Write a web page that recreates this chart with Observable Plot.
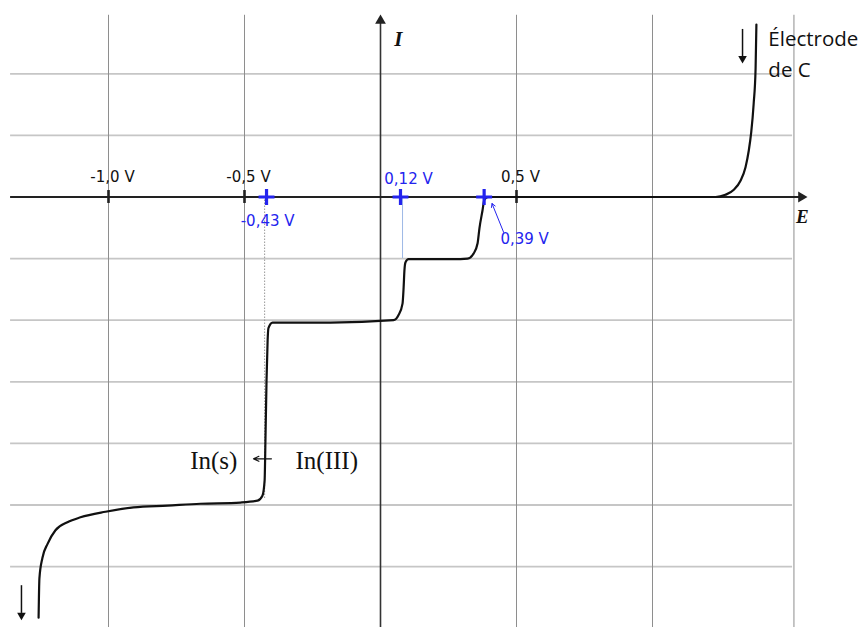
<!DOCTYPE html>
<html><head><meta charset="utf-8">
<script src="https://cdn.jsdelivr.net/npm/d3@7"></script>
<script src="https://cdn.jsdelivr.net/npm/@observablehq/plot@0.6"></script>
<style>body{margin:0;background:#fff} #chart svg{display:block}</style>
</head><body><div id="chart"></div>
<script>
// Current-potential curve I(E) (E in V, I in grid units)
const curveE = [-1.257,-1.254,-1.243,-1.224,-1.195,-1.151,-1.103,-1.011,-0.908,-0.783,-0.662,-0.515,-0.452,-0.434,-0.426,-0.423,-0.419,-0.415,-0.412,-0.397,-0.184,0.048,0.066,0.081,0.085,0.088,0.092,0.103,0.268,0.320,0.342,0.357,0.364,0.375,0.382,0.397,0.800,1.232,1.268,1.299,1.324,1.342,1.354,1.363,1.372,1.379,1.382];
const curveI = [-6.83,-6.19,-5.86,-5.63,-5.41,-5.28,-5.20,-5.11,-5.04,-5.01,-4.98,-4.96,-4.93,-4.85,-4.60,-3.95,-2.98,-2.33,-2.13,-2.04,-2.04,-2.00,-1.92,-1.73,-1.47,-1.19,-1.06,-1.01,-1.01,-1.00,-0.92,-0.75,-0.50,-0.22,-0.04,0,0,0,0.036,0.117,0.268,0.484,0.755,1.052,1.518,2.086,2.80];

// grid
const gridE = [-1.0, -0.5, 0.5, 1.0, 1.52];
const gridI = [2, 1, -1, -2, -3, -4, -5, -6];

// axis ticks
const tickE = [-1.0, -0.5, 0.5];
const tickLabels = ["-1,0 V", "-0,5 V", "0,5 V"];

// half-wave potential markers (position as drawn) and their labels
const markerE = [-0.419, 0.0735, 0.381];
const markerLabels = ["-0,43 V", "0,12 V", "0,39 V"];
const markerLabelE = [-0.415, 0.103, 0.53];
const markerLabelI = [-0.385, 0.297, -0.677];

// dotted drop lines
const dropE = [-0.426, 0.081];
const dropI = [-4.9, -1.0];

// annotation texts
const reactionTexts = ["In(s)", "In(III)"];
const reactionE = [-0.526, -0.3125];
const reactionI = -4.28;
const reactionArrowE = [-0.401, -0.467];
const reactionArrowI = -4.25;
const electrodeLines = ["Électrode", "de C"];
const electrodeLineI = [2.55, 2.06];

const xDomain = [-380/272, 487/272];
const yDomain = [-(627-196.5)/61.6, 196.5/61.6];

const blue = "#2424ee";
const data = curveE.map((e, i) => ({E: e, I: curveI[i]}));
const serif = {fontFamily: "Liberation Serif", fontSize: 25, fill: "#111"};

const chart = Plot.plot({
  width: 867, height: 627,
  margin: 0,
  x: {domain: xDomain, axis: null},
  y: {domain: yDomain, axis: null},
  style: {background: "#fff"},
  marks: [
    // grid
    Plot.ruleY(gridI, {y: d => d, x1: -1.36, x2: 1.515, stroke: "#c6c6c6", strokeWidth: 1.8}),
    Plot.ruleX(gridE, {x: d => d, y1: 2.95, y2: yDomain[0], stroke: "#8e8e8e", strokeWidth: 1}),
    // axes
    Plot.ruleX([0], {y1: yDomain[0], y2: 2.86, stroke: "#333", strokeWidth: 1.6}),
    Plot.dot([0], {x: 0, y: 2.862, symbol: "triangle", r: 4, fill: "#222", stroke: "none"}),
    Plot.ruleY([0], {x1: -1.36, x2: 1.545, stroke: "#222", strokeWidth: 2}),
    Plot.dot([0], {x: 1.547, y: 0, symbol: "triangle", r: 4, rotate: 90, fill: "#222", stroke: "none"}),
    Plot.ruleX(tickE, {x: d => d, y1: -0.105, y2: 0.105, stroke: "#222", strokeWidth: 2.6}),
    Plot.text(tickLabels, {x: (d, i) => tickE[i], y: 0.314, text: d => d, dx: 4,
      fontFamily: "DejaVu Sans", fontSize: 15, fill: "#111"}),
    // drop lines
    Plot.ruleX([0], {x: dropE[0], y1: 0, y2: dropI[0], stroke: "#999", strokeWidth: 1, strokeDasharray: "1.5,1.5"}),
    Plot.ruleX([0], {x: dropE[1], y1: 0, y2: dropI[1], stroke: "#9db8e6", strokeWidth: 1}),
    // curve
    Plot.line(data, {x: "E", y: "I", curve: "monotone-x", stroke: "#111", strokeWidth: 2.2}),
    // markers
    Plot.dot(markerE, {x: d => d, y: 0, symbol: "plus", r: 5.2, stroke: blue, strokeWidth: 3.2}),
    Plot.text(markerLabels, {x: (d, i) => markerLabelE[i], y: (d, i) => markerLabelI[i], text: d => d,
      fontFamily: "DejaVu Sans", fontSize: 15, fill: blue}),
    Plot.arrow([0], {x1: 0.453, y1: -0.576, x2: 0.410, y2: -0.106, stroke: blue, strokeWidth: 1, headLength: 6}),
    // axis names
    Plot.text(["I"], {x: 0.066, y: 2.557, text: d => d, fontFamily: "Liberation Serif", fontStyle: "italic", fontWeight: "bold", fontSize: 21, fill: "#111"}),
    Plot.text(["E"], {x: 1.551, y: -0.317, text: d => d, fontFamily: "Liberation Serif", fontStyle: "italic", fontWeight: "bold", fontSize: 19, fill: "#111"}),
    // electrode label and arrows
    Plot.text(electrodeLines, {x: 1.426, y: (d, i) => electrodeLineI[i], text: d => d, textAnchor: "start",
      fontFamily: "Open Sans", fontSize: 20.5, fill: "#111"}),
    Plot.ruleX([0], {x: 1.331, y1: 2.72, y2: 2.26, stroke: "#111", strokeWidth: 1.5}),
    Plot.dot([0], {x: 1.331, y: 2.248, symbol: "triangle", r: 3.2, rotate: 180, fill: "#111", stroke: "none"}),
    Plot.ruleX([0], {x: -1.32, y1: -6.31, y2: -6.76, stroke: "#111", strokeWidth: 1.5}),
    Plot.dot([0], {x: -1.32, y: -6.79, symbol: "triangle", r: 3.2, rotate: 180, fill: "#111", stroke: "none"}),
    // reaction label
    Plot.text([reactionTexts[0]], {x: reactionE[0], y: reactionI, text: d => d, textAnchor: "end", ...serif}),
    Plot.text([reactionTexts[1]], {x: reactionE[1], y: reactionI, text: d => d, textAnchor: "start", ...serif}),
    Plot.arrow([0], {x1: reactionArrowE[0], x2: reactionArrowE[1], y1: reactionArrowI, y2: reactionArrowI,
      stroke: "#111", strokeWidth: 1.2, headLength: 8, headAngle: 50})
  ]
});
document.getElementById("chart").append(chart);
</script>
</body></html>
